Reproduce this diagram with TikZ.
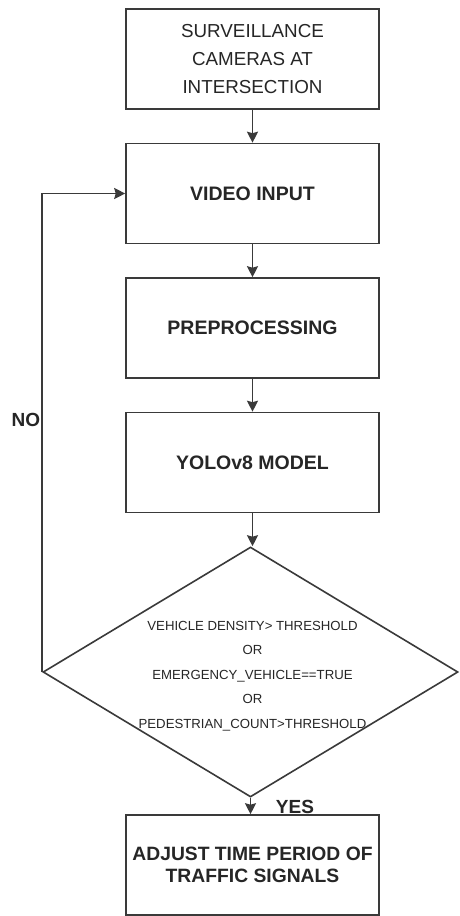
\documentclass[tikz,border=0pt]{standalone}
\usepackage{fontspec}
\setmainfont{Liberation Sans}
\usetikzlibrary{shapes.geometric,arrows.meta}
\definecolor{linec}{HTML}{3A3A3A}
\definecolor{textc}{HTML}{262626}
\tikzset{
  procbox/.style={draw=linec, line width=1.6pt, minimum width=253pt, minimum height=100pt, inner sep=0pt, text=textc, align=center},
  decbox/.style={draw=linec, line width=1.6pt, diamond, minimum width=415pt, minimum height=250pt, inner sep=0pt, aspect=1.66},
  flow/.style={draw=linec, line width=1.6pt, -{Stealth[length=11pt,width=11pt,inset=1.5pt]}},
  lbl/.style={text=textc, font=\fontsize{19}{22}\selectfont\bfseries, inner sep=0pt}
}
\begin{document}
\begin{tikzpicture}[x=1pt,y=-1pt]
\useasboundingbox (0,0) rectangle (459,916);
\fill[white] (0,0) rectangle (459,916);
\node[procbox, font=\fontsize{18.8}{28}\selectfont] (cam) at (252.5,59) {SURVEILLANCE\\CAMERAS AT\\INTERSECTION};
\node[procbox, font=\fontsize{19.5}{22}\selectfont\bfseries] (vid) at (252.5,193.5) {VIDEO INPUT};
\node[procbox, font=\fontsize{19.5}{22}\selectfont\bfseries] (pre) at (252.5,328) {PREPROCESSING};
\node[procbox, font=\fontsize{19.5}{22}\selectfont\bfseries] (yolo) at (252.5,462.5) {YOLOv8 MODEL};
\node[decbox] (dec) at (250.5,672) {};
\node[text=textc, align=center, inner sep=0pt, font=\fontsize{13.2}{24.5}\selectfont] (cond) at (252.5,676)
  {VEHICLE DENSITY> THRESHOLD\\OR\\EMERGENCY\_VEHICLE==TRUE\\OR\\PEDESTRIAN\_COUNT>THRESHOLD};
\node[procbox, font=\fontsize{19.3}{22}\selectfont\bfseries] (adj) at (252.5,865) {ADJUST TIME PERIOD OF\\TRAFFIC SIGNALS};
\coordinate (loopc) at (dec.west |- vid.west);
\draw[flow] (cam) -- (vid);
\draw[flow] (vid) -- (pre);
\draw[flow] (pre) -- (yolo);
\draw[flow] (yolo) -- (yolo |- dec.north);
\draw[flow] (dec.south) -- (dec.south |- adj.north);
\draw[flow] (dec.west) -- (loopc) -- (vid.west);
\node[lbl] (no) at (26,420) {NO};
\node[lbl] (yes) at (295,807) {YES};
\end{tikzpicture}
\end{document}
